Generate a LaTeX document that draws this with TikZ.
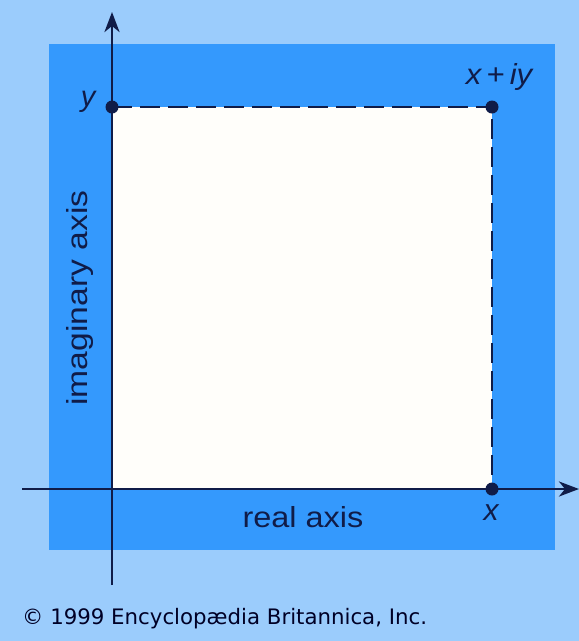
\documentclass[tikz,border=0pt]{standalone}
\usepackage{fontspec}
\setmainfont{Liberation Sans}
\newfontfamily\copyfont{DejaVu Sans}
\usetikzlibrary{arrows.meta}
\definecolor{lightbg}{RGB}{155,204,252}
\definecolor{darkbg}{RGB}{52,153,253}
\definecolor{ink}{RGB}{16,28,72}
\definecolor{paper}{RGB}{255,254,250}
\tikzset{
  axis/.style={draw=ink, line width=2.8pt, -{Stealth[length=20pt,width=15pt,inset=6pt]}},
  guide/.style={draw=ink, line width=2.8pt, dash pattern=on 20pt off 8pt},
  pt/.style={circle, fill=ink, inner sep=0pt, minimum size=13pt},
  lbl/.style={text=ink, inner sep=0pt},
}
\begin{document}
\begin{tikzpicture}[x=1pt,y=-1pt]
\useasboundingbox (0,0) rectangle (579,641);
\fill[lightbg] (0,0) rectangle (579,641);
\fill[darkbg] (49,44) rectangle (555,550);
\fill[paper] (112,107) rectangle (492,489);
\node[pt] (py) at (112,107) {};
\node[pt] (pz) at (492,107) {};
\node[pt] (px) at (492,489) {};
\coordinate (xl) at (22,489);
\coordinate (xr) at (579,489);
\coordinate (yb) at (112,585);
\coordinate (yt) at (112,12);
\draw[guide] (py.center) -- (pz.center) -- (px.center);
\draw[axis] (xl) -- (xr);
\draw[axis] (yb) -- (yt);
\node[lbl, font=\fontsize{29}{29}\selectfont\itshape] (ly) at (88,102) {y};
\node[lbl, font=\fontsize{29}{29}\selectfont\itshape] (lz) at (499,77) {\scalebox{1.07}[1]{x\,+\,iy}};
\node[lbl, font=\fontsize{30}{30}\selectfont\itshape] (lx) at (491,513) {x};
\node[lbl, font=\fontsize{29}{29}\selectfont] (lr) at (303,517) {\scalebox{1.12}[1]{real axis}};
\node[lbl, font=\fontsize{29}{29}\selectfont, rotate=90] (li) at (80,298) {\scalebox{1.16}[1]{imaginary axis}};
\node[lbl, anchor=west, text=black!85!blue] (lc) at (22,619) {\copyfont\fontsize{21.3}{24}\selectfont © 1999 Encyclopædia Britannica, Inc.};
\end{tikzpicture}
\end{document}
